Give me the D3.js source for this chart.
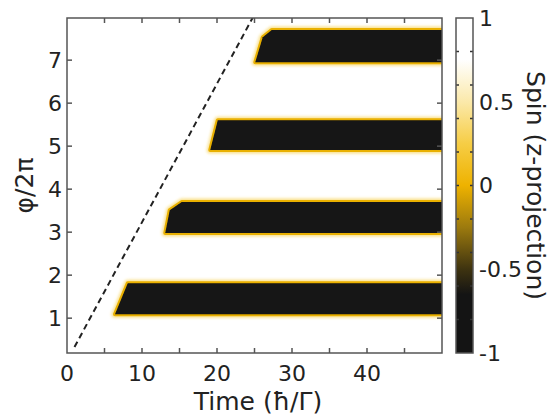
<!DOCTYPE html>
<html>
<head>
<meta charset="utf-8">
<script src="https://cdn.jsdelivr.net/npm/d3@7"></script>
<style>
  body { margin: 0; background: #fff; }
  text { font-family: "DejaVu Sans", Verdana, sans-serif; fill: #222; }
</style>
</head>
<body>
<div id="chart"></div>
<script>
// outlines of the spin-flipped regions, [time, phi/2pi]
var bar1 = [[6.4, 1.09], [8.1, 1.81], [50, 1.81], [50, 1.09]];
var bar2 = [[13.1, 2.98], [13.7, 3.51], [15.3, 3.70], [50, 3.70], [50, 2.98]];
var bar3 = [[19.1, 4.91], [20.1, 5.60], [50, 5.60], [50, 4.91]];
var bar4 = [[25.1, 6.95], [26.1, 7.53], [27.3, 7.70], [50, 7.70], [50, 6.95]];
var bars = [bar1, bar2, bar3, bar4];

// dashed guide line
var guideLine = [[1.0, 0.33], [24.8, 8.0]];

// tick values
var xTicks = [0, 5, 10, 15, 20, 25, 30, 35, 40, 45];
var xLabels = [0, 10, 20, 30, 40];
var yTicks = [1, 2, 3, 4, 5, 6, 7];
var cbTicks = [-0.8, -0.6, -0.4, -0.2, 0, 0.2, 0.4, 0.6, 0.8];
var cbLabels = [-1, -0.5, 0, 0.5, 1];

// colormap stops (spin value -> colour)
var cmapValues = [-1, -0.65, -0.5, -0.25, 0, 0.25, 0.5, 0.75, 1];
var cmapColors = ["#141414", "#141414", "#3e3310", "#9c7a0e", "#eeb200", "#f6cd45", "#fbe9aa", "#ffffff", "#ffffff"];

var W = 559, H = 419;
var svg = d3.select("#chart").append("svg").attr("width", W).attr("height", H);

var mLeft = 67, mTop = 18, width = 375, height = 335;

var x = d3.scaleLinear().domain([0, 50]).range([mLeft, mLeft + width]);
var y = d3.scaleLinear().domain([0.19, 7.98]).range([mTop + height, mTop]);
var color = d3.scaleLinear().domain(cmapValues).range(cmapColors);

var defs = svg.append("defs");
defs.append("clipPath").attr("id", "plotClip")
    .append("rect").attr("x", mLeft).attr("y", mTop).attr("width", width).attr("height", height);
function blur(id, sd) {
    defs.append("filter").attr("id", id).attr("x", "-10%").attr("y", "-50%").attr("width", "120%").attr("height", "200%")
        .append("feGaussianBlur").attr("stdDeviation", sd);
}
blur("halo", 1.6);
blur("rimBlur", 0.5);
blur("soft", 0.6);

var line = d3.line().x(function (d) { return x(d[0]); }).y(function (d) { return y(d[1]); });
var outline = function (d) { return line(d) + "Z"; };

var plot = svg.append("g").attr("clip-path", "url(#plotClip)");

// pale halo, gold rim, then the black body
plot.selectAll("path.halo")
    .data(bars)
    .enter()
    .append("path")
    .attr("class", "halo")
    .attr("d", outline)
    .attr("fill", color(0.3))
    .attr("stroke", color(0.3))
    .attr("stroke-width", 7)
    .attr("stroke-linejoin", "round")
    .attr("opacity", 0.7)
    .attr("filter", "url(#halo)");
plot.selectAll("path.rim")
    .data(bars)
    .enter()
    .append("path")
    .attr("class", "rim")
    .attr("d", outline)
    .attr("fill", color(0))
    .attr("stroke", "#e9b000")
    .attr("stroke-width", 4)
    .attr("stroke-linejoin", "round")
    .attr("filter", "url(#rimBlur)");
plot.selectAll("path.body")
    .data(bars)
    .enter()
    .append("path")
    .attr("class", "body")
    .attr("d", outline)
    .attr("fill", color(-1))
    .attr("filter", "url(#soft)");

plot.append("path")
    .attr("d", line(guideLine))
    .attr("fill", "none")
    .attr("stroke", "#222")
    .attr("stroke-width", 2)
    .attr("stroke-dasharray", "6,4");

// frame and inward ticks
var axisColor = "#555";
var tickLen = 5;
var g = svg.append("g").attr("stroke", axisColor).attr("stroke-width", 1.5);
xTicks.forEach(function (t) {
    if (t === 0) return;
    g.append("line").attr("x1", x(t)).attr("x2", x(t)).attr("y1", mTop + height).attr("y2", mTop + height - tickLen);
    g.append("line").attr("x1", x(t)).attr("x2", x(t)).attr("y1", mTop).attr("y2", mTop + tickLen);
});
yTicks.forEach(function (t) {
    g.append("line").attr("x1", mLeft).attr("x2", mLeft + tickLen).attr("y1", y(t)).attr("y2", y(t));
    g.append("line").attr("x1", mLeft + width).attr("x2", mLeft + width - tickLen).attr("y1", y(t)).attr("y2", y(t));
});
g.append("rect").attr("x", mLeft).attr("y", mTop).attr("width", width).attr("height", height).attr("fill", "none");

var fs = 22, titleFs = 25;
svg.append("g").selectAll("text")
    .data(xLabels)
    .enter()
    .append("text")
    .attr("x", function (d) { return x(d); })
    .attr("y", mTop + height + 28)
    .attr("text-anchor", "middle")
    .style("font-size", fs + "px")
    .text(function (d) { return d; });
svg.append("g").selectAll("text")
    .data(yTicks)
    .enter()
    .append("text")
    .attr("x", mLeft - 5)
    .attr("y", function (d) { return y(d); })
    .attr("dy", "0.36em")
    .attr("text-anchor", "end")
    .style("font-size", fs + "px")
    .text(function (d) { return d; });

svg.append("text")
    .attr("x", 258)
    .attr("y", 410)
    .attr("text-anchor", "middle")
    .style("font-size", titleFs + "px")
    .text("Time (ħ/Γ)");
svg.append("text")
    .attr("transform", "translate(24," + (mTop + height / 2) + ")rotate(-90)")
    .attr("dy", "0.36em")
    .attr("text-anchor", "middle")
    .style("font-size", titleFs + "px")
    .text("φ/2π");

// colour bar
var cbLeft = 456, cbWidth = 17;
var cb = d3.scaleLinear().domain([-1, 1]).range([mTop + height, mTop]);
var grad = defs.append("linearGradient").attr("id", "cbGrad")
    .attr("x1", 0).attr("y1", 1).attr("x2", 0).attr("y2", 0);
grad.selectAll("stop")
    .data(cmapValues)
    .enter()
    .append("stop")
    .attr("offset", function (d) { return (d + 1) / 2; })
    .attr("stop-color", function (d) { return color(d); });
svg.append("rect")
    .attr("x", cbLeft).attr("y", mTop).attr("width", cbWidth).attr("height", height)
    .attr("fill", "url(#cbGrad)");
var cg = svg.append("g").attr("stroke", "#333").attr("stroke-width", 1.5);
cbTicks.forEach(function (t) {
    cg.append("line").attr("x1", cbLeft).attr("x2", cbLeft + 3).attr("y1", cb(t)).attr("y2", cb(t));
    cg.append("line").attr("x1", cbLeft + cbWidth).attr("x2", cbLeft + cbWidth - 3).attr("y1", cb(t)).attr("y2", cb(t));
});
svg.append("rect")
    .attr("x", cbLeft).attr("y", mTop).attr("width", cbWidth).attr("height", height)
    .attr("fill", "none").attr("stroke", axisColor).attr("stroke-width", 1.5);
svg.append("g").selectAll("text")
    .data(cbLabels)
    .enter()
    .append("text")
    .attr("x", cbLeft + cbWidth + 6)
    .attr("y", function (d) { return cb(d); })
    .attr("dy", "0.36em")
    .style("font-size", fs + "px")
    .text(function (d) { return d; });
svg.append("text")
    .attr("transform", "translate(536," + (mTop + height / 2) + ")rotate(90)")
    .attr("dy", "0.36em")
    .attr("text-anchor", "middle")
    .style("font-size", titleFs + "px")
    .text("Spin (z-projection)");
</script>
</body>
</html>
